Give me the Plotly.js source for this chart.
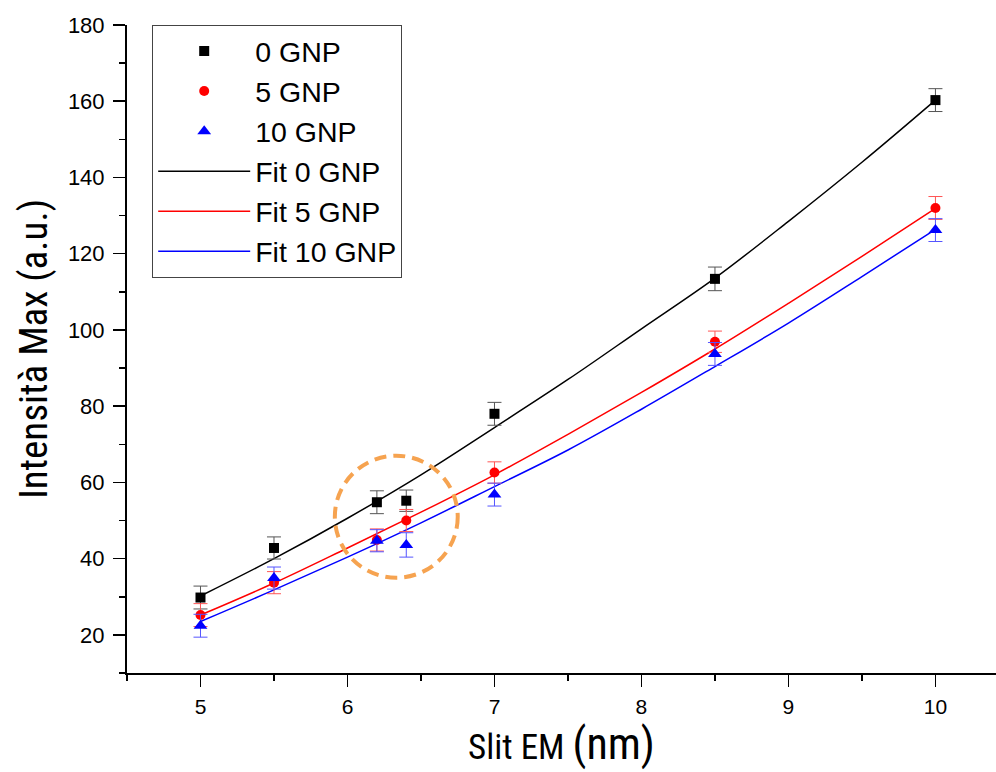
<!DOCTYPE html>
<html>
<head>
<meta charset="utf-8">
<script src="https://cdn.plot.ly/plotly-3.0.1.min.js"></script>
<style>html,body{margin:0;padding:0;background:#fff}#chart{width:996px;height:772px}</style>
</head>
<body>
<div id="chart"></div>
<script>
// Measured data points
const slit = [5, 5.5, 6.2, 6.4, 7, 8.5, 10];
const gnp0 = [29.8, 42.8, 54.8, 55.2, 78.0, 113.4, 160.3];
const gnp5 = [25.2, 33.7, 44.9, 50.0, 62.6, 96.9, 132.0];
const gnp10 = [22.4, 34.9, 44.7, 43.6, 56.8, 93.7, 126.2];
const err0 = [3.0, 2.9, 3.0, 2.8, 3.0, 3.1, 3.0];
const err5 = [3.0, 2.9, 2.9, 2.9, 2.8, 2.8, 3.0];
const err10 = [3.0, 2.9, 2.9, 3.2, 3.0, 3.0, 3.0];

// Fit curves
const fitX = [5, 5.5, 6, 6.5, 7, 7.5, 8, 8.5, 9, 9.5, 10];
const fit0 = [30.2, 40.0, 50.6, 62.0, 74.4, 87.0, 100.3, 113.6, 128.5, 144.0, 160.3];
const fit5 = [25.2, 33.6, 42.8, 52.2, 62.0, 72.6, 83.6, 95.0, 107.0, 119.3, 131.9];
const fit10 = [23.5, 31.8, 40.4, 49.4, 58.9, 68.5, 79.2, 90.4, 101.8, 114.0, 126.4];

// Highlight circle (data coords)
const circleX = [5.914, 6.75];
const circleY = [35, 67];

const narrow = "Liberation Sans Narrow, Roboto Condensed, Liberation Sans, Arial, sans-serif";
const regular = "Liberation Sans, Arial, sans-serif";

function pts(name, y, err, color, errColor, symbol, size, rank) {
  return {
    type: 'scatter', mode: 'markers', name: name, x: slit, y: y,
    marker: {color: color, symbol: symbol, size: size},
    error_y: {type: 'data', array: err, visible: true, color: errColor, thickness: 1, width: 7},
    legendrank: rank
  };
}
function fit(name, y, color, rank) {
  return {
    type: 'scatter', mode: 'lines', name: name, x: fitX, y: y,
    line: {color: color, width: 1.5, shape: 'spline'},
    legendrank: rank
  };
}

const data = [
  fit('Fit 0 GNP', fit0, '#000000', 4),
  fit('Fit 5 GNP', fit5, '#ff0000', 5),
  fit('Fit 10 GNP', fit10, '#0000ff', 6),
  pts('0 GNP', gnp0, err0, '#000000', '#555555', 'square', 10, 1),
  pts('5 GNP', gnp5, err5, '#ff0000', '#ff5555', 'circle', 10, 2),
  pts('10 GNP', gnp10, err10, '#0000ff', '#5555ff', 'triangle-up', 12, 3)
];

const layout = {
  width: 996, height: 772,
  margin: {l: 127, r: 0, t: 25, b: 99},
  paper_bgcolor: '#fff', plot_bgcolor: '#fff',
  showlegend: true,
  legend: {
    x: 0.029, y: 1.0, xanchor: 'left', yanchor: 'top',
    bgcolor: '#fff', bordercolor: '#444', borderwidth: 1,
    font: {family: regular, size: 28.5, color: '#000'},
    itemwidth: 92, tracegroupgap: 0
  },
  xaxis: {
    range: [4.5, 10.412], showgrid: false, zeroline: false,
    showline: true, linecolor: '#000', linewidth: 2,
    ticks: 'outside', ticklen: 12, tickwidth: 1.5, tickcolor: '#000',
    dtick: 1, tick0: 5, ticklabelstandoff: 2,
    minor: {dtick: 0.5, ticks: 'outside', ticklen: 6, tickwidth: 1.5, tickcolor: '#000'},
    tickfont: {family: regular, size: 21, color: '#000'},
    title: {text: 'Slit EM <span style="font-size:44px">(nm)</span>', font: {family: narrow, size: 35, color: '#000'}, standoff: 8}
  },
  yaxis: {
    range: [10, 180], showgrid: false, zeroline: false,
    showline: true, linecolor: '#000', linewidth: 2,
    ticks: 'outside', ticklen: 12, tickwidth: 1.5, tickcolor: '#000',
    dtick: 20, tick0: 0, ticklabelstandoff: 4,
    minor: {dtick: 10, ticks: 'outside', ticklen: 6, tickwidth: 1.5, tickcolor: '#000'},
    tickfont: {family: regular, size: 22, color: '#000'},
    title: {text: 'Intensità Max (a.u.)', font: {family: narrow, size: 39, color: '#000'}, standoff: 8}
  },
  shapes: [{
    type: 'circle', xref: 'x', yref: 'y',
    x0: circleX[0], x1: circleX[1], y0: circleY[0], y1: circleY[1],
    line: {color: '#F6A350', width: 4, dash: '12px,7px'}
  }]
};

Plotly.newPlot('chart', data, layout, {displayModeBar: false, staticPlot: true});
</script>
</body>
</html>
